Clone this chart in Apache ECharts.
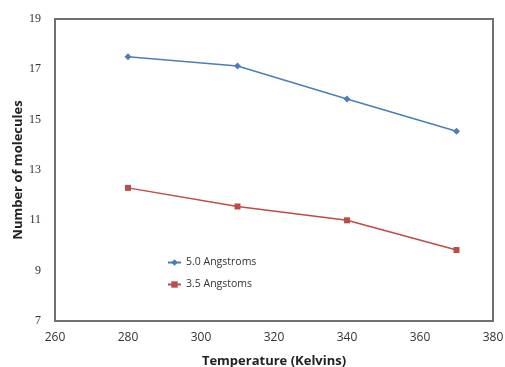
<!DOCTYPE html>
<html>
<head>
<meta charset="utf-8">
<script src="https://cdn.jsdelivr.net/npm/echarts@6/dist/echarts.min.js"></script>
<style>
  html, body {margin: 0; padding: 0; background: #fff;}
  #chart {width: 505px; height: 367px;}
</style>
</head>
<body>
<div id="chart"></div>
<script>
// temperatures (K) and molecule counts
var temps = [280, 310, 340, 370];
var wide = [17.5, 17.13, 15.82, 14.54];   // 5.0 Angstroms
var narrow = [12.29, 11.55, 11.0, 9.82];  // 3.5 Angstoms
var seriesNames = ['5.0 Angstroms', '3.5 Angstoms'];

function pairs(xs, ys) {
    var out = [];
    for (var i = 0; i < xs.length; i++) {
        out.push([xs[i], ys[i]]);
    }
    return out;
}

var chart = echarts.init(document.getElementById('chart'));
var option = {
    animation: false,
    color: ['#4a7ebb', '#be4b48'],
    grid: {
        left: 55, right: 12, top: 19, bottom: 46,
        outerBoundsMode: 'none',
        show: true, borderColor: '#707070', borderWidth: 2
    },
    legend: {
        orient: 'vertical',
        left: 162, top: 252,
        itemWidth: 13, itemHeight: 8, itemGap: 11,
        textStyle: {fontFamily: 'Open Sans', fontSize: 10.5, color: '#333'},
        data: seriesNames
    },
    xAxis: {
        type: 'value',
        min: 260, max: 380, interval: 20,
        name: 'Temperature (Kelvins)',
        nameLocation: 'middle', nameGap: 34,
        nameTextStyle: {fontFamily: 'Open Sans', fontWeight: 'bold', fontSize: 13, color: '#222'},
        axisLine: {show: false},
        axisTick: {show: false},
        splitLine: {show: false},
        axisLabel: {fontFamily: 'Open Sans', fontSize: 12, color: '#333', margin: 11}
    },
    yAxis: {
        type: 'value',
        min: 7, max: 19, interval: 2,
        name: 'Number of molecules',
        nameLocation: 'middle', nameGap: 30,
        nameMoveOverlap: false,
        nameTextStyle: {fontFamily: 'Open Sans', fontWeight: 'bold', fontSize: 13, color: '#222'},
        axisLine: {show: false},
        axisTick: {show: false},
        splitLine: {show: false},
        axisLabel: {fontFamily: 'Liberation Serif', fontSize: 12, color: '#333', margin: 14}
    },
    series: [
        {
            name: seriesNames[0], type: 'line',
            data: pairs(temps, wide),
            symbol: 'diamond', symbolSize: 7,
            lineStyle: {width: 1.5}
        },
        {
            name: seriesNames[1], type: 'line',
            data: pairs(temps, narrow),
            symbol: 'rect', symbolSize: 6,
            lineStyle: {width: 1.5}
        }
    ]
};
chart.setOption(option);
</script>
</body>
</html>
